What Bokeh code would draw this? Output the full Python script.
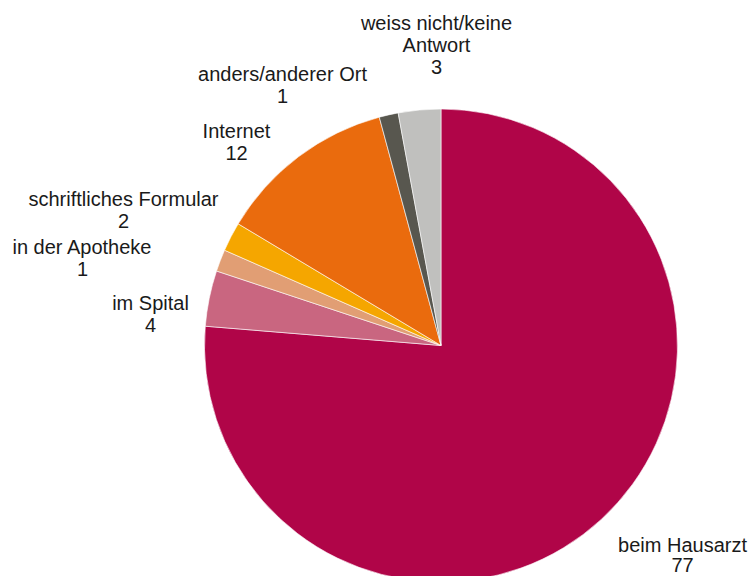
import math
from bokeh.plotting import figure
from bokeh.models import Range1d, ColumnDataSource
from bokeh.core.properties import value
from bokeh.embed import file_html
from bokeh.resources import INLINE

# ---- data ----
categories = ["beim Hausarzt", "im Spital", "in der Apotheke", "schriftliches Formular",
              "Internet", "anders/anderer Ort", "weiss nicht/keine Antwort"]
label_lines = [["beim Hausarzt"], ["im Spital"], ["in der Apotheke"], ["schriftliches Formular"],
               ["Internet"], ["anders/anderer Ort"], ["weiss nicht/keine", "Antwort"]]
# rounded values shown in the labels
values = [77, 4, 1, 2, 12, 1, 3]
# unrounded shares (percent)
shares = [76.3, 3.8, 1.5, 2.0, 12.2, 1.3, 2.9]
colors = ["#B00548", "#C96680", "#E19E74", "#F5A600", "#EA6B0D", "#58574F", "#C0C0BE"]

# ---- layout (page pixel coords) ----
W, H = 750, 576
cx_img, cy_img, r = 440.5, 345, 236.5
# label anchor (center x, center y of first line) in page pixels
label_pos = [(682, 544), (150, 302), (82, 246), (123, 198), (236, 130), (282, 73), (436, 22)]
line_gap = 22

def Y(y_img):
    return H - y_img

p = figure(width=W, height=H, output_backend="svg", toolbar_location=None,
           x_range=Range1d(0, W), y_range=Range1d(0, H), min_border=0)
p.axis.visible = False
p.grid.visible = False
p.outline_line_color = None

total = sum(shares)
starts, ends = [], []
cum = 0
for v in shares:
    starts.append(math.pi / 2 - cum / total * 2 * math.pi)
    cum += v
    ends.append(math.pi / 2 - cum / total * 2 * math.pi)

src = ColumnDataSource(dict(start=starts, end=ends, color=colors, cat=categories, val=values))
p.wedge(x=cx_img, y=Y(cy_img), radius=r, start_angle="start", end_angle="end",
        direction="clock", fill_color="color", line_color="white", line_width=0.6, source=src)

tx, ty, tt = [], [], []
for lines, v, (lx, ly) in zip(label_lines, values, label_pos):
    all_lines = lines + [str(v)]
    gap = 20 if len(lines) == 1 and lx > 600 else line_gap
    for i, s in enumerate(all_lines):
        tx.append(lx)
        ty.append(Y(ly + i * gap))
        tt.append(s)

p.text(x=tx, y=ty, text=tt, text_align="center", text_baseline="middle",
       text_font=value("Liberation Sans"), text_font_size="20px", text_color="#1a1a1a")

open("out.html", "w").write(file_html(p, INLINE))
